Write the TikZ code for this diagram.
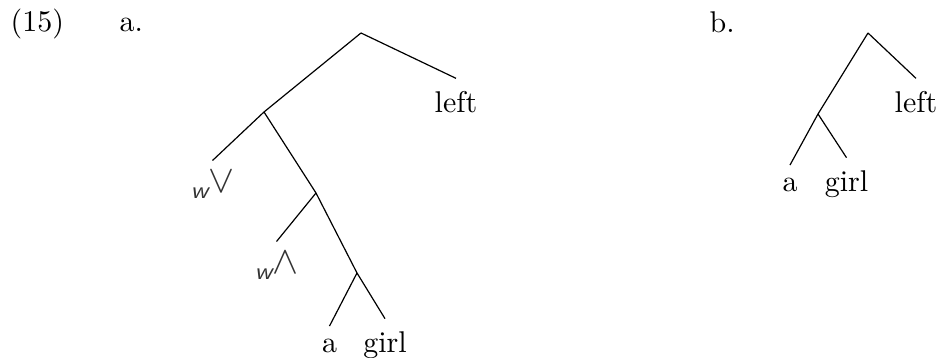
\documentclass[tikz,border=0pt]{standalone}
\usepackage{graphicx}
\begin{document}
\begin{tikzpicture}[x=0.3333pt,y=-0.3333pt,
  leaf/.style={anchor=base,inner xsep=1pt,inner ysep=4.3pt},
  lab/.style={anchor=base west,inner sep=0pt},
  op/.style={anchor=base,inner xsep=0pt,inner ysep=3.4pt,text=black!80},
  branch/.style={line width=0.4pt}]
\useasboundingbox (0,0) rectangle (939,358);
% labels
\node[lab] (num) at (10,32) {(15)};
\node[lab] (la) at (119,32) {a.};
\node[lab] (lb) at (709,33) {b.};
% tree a
\coordinate (ra) at (361,33);
\coordinate (n1) at (264,112);
\coordinate (n2) at (316,193);
\coordinate (n3) at (357,273);
\node[leaf] (lefta) at (456,113) {left};
\node[op] (vee) at (212.5,193) {\raisebox{-1.7pt}{\sffamily\itshape\footnotesize w}\scalebox{1.3}{$\vee$}};
\node[op] (wedge) at (276.5,274) {\raisebox{-1.7pt}{\sffamily\itshape\footnotesize w}\scalebox{1.3}{$\wedge$}};
\node[leaf] (aa) at (329.5,353) {a};
\node[leaf] (girla) at (385,353) {girl};
\draw[branch] (ra) -- (n1);
\draw[branch] (ra) -- (lefta.north);
\draw[branch] (n1) -- (vee.north);
\draw[branch] (n1) -- (n2);
\draw[branch] (n2) -- (wedge.north);
\draw[branch] (n2) -- (n3);
\draw[branch] (n3) -- (aa.north);
\draw[branch] (n3) -- (girla.north);
% tree b
\coordinate (rb) at (868,33);
\coordinate (m1) at (818,114);
\node[leaf] (leftb) at (916,113) {left};
\node[leaf] (ab) at (790,192) {a};
\node[leaf] (girlb) at (846.5,192) {girl};
\draw[branch] (rb) -- (m1);
\draw[branch] (rb) -- (leftb.north);
\draw[branch] (m1) -- (ab.north);
\draw[branch] (m1) -- (girlb.north);
\end{tikzpicture}
\end{document}
